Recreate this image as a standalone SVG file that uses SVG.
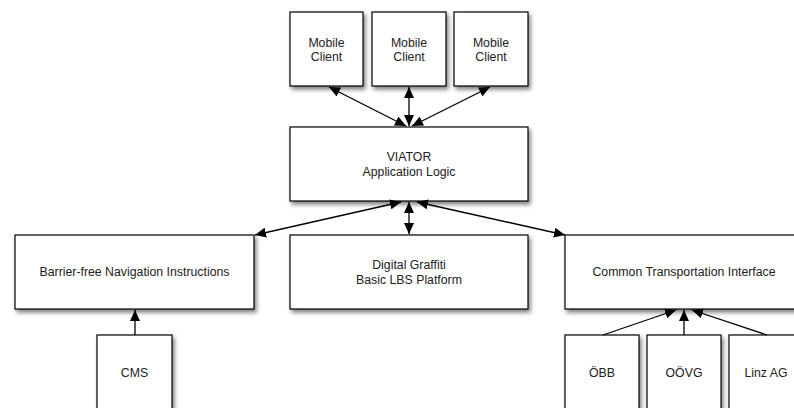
<svg xmlns="http://www.w3.org/2000/svg" width="794" height="408" viewBox="0 0 794 408">
<defs>
<filter id="sh" x="-10%" y="-10%" width="130%" height="140%">
<feDropShadow dx="2" dy="3" stdDeviation="2" flood-color="#000" flood-opacity="0.5"/>
</filter>
<marker id="ah" markerUnits="userSpaceOnUse" markerWidth="12" markerHeight="10" refX="11" refY="5" orient="auto-start-reverse">
<path d="M0,0 L11,5 L0,10 z" fill="#000"/>
</marker>
<style>
.box{fill:#fff;stroke:#000;stroke-width:1.2;filter:url(#sh)}
.t{font-family:"Liberation Sans",Arial,Helvetica,sans-serif;font-size:12.3px;fill:#222;text-anchor:middle}
.c{stroke:#000;stroke-width:1.3;fill:none}
.bi{marker-start:url(#ah);marker-end:url(#ah)}
.un{marker-end:url(#ah)}
</style>
</defs>
<g id="mobile1"><rect class="box" x="290" y="12" width="73" height="74"/><text class="t" x="326.5" y="47">Mobile</text><text class="t" x="326.5" y="61">Client</text></g>
<g id="mobile2"><rect class="box" x="372" y="12" width="74" height="74"/><text class="t" x="409" y="47">Mobile</text><text class="t" x="409" y="61">Client</text></g>
<g id="mobile3"><rect class="box" x="454" y="12" width="74" height="74"/><text class="t" x="491" y="47">Mobile</text><text class="t" x="491" y="61">Client</text></g>
<g id="viator"><rect class="box" x="290" y="127" width="238" height="74"/><text class="t" x="409" y="161">VIATOR</text><text class="t" x="409" y="175.5">Application Logic</text></g>
<g id="barrier"><rect class="box" x="15" y="235" width="239" height="74"/><text class="t" x="134.5" y="276">Barrier-free Navigation Instructions</text></g>
<g id="graffiti"><rect class="box" x="290" y="235" width="238" height="74"/><text class="t" x="409" y="269">Digital Graffiti</text><text class="t" x="409" y="283.5">Basic LBS Platform</text></g>
<g id="cti"><rect class="box" x="565" y="235" width="239" height="74"/><text class="t" x="684" y="276">Common Transportation Interface</text></g>
<g id="cms"><rect class="box" x="97" y="335" width="75" height="100"/><text class="t" x="134.5" y="377">CMS</text></g>
<g id="obb"><rect class="box" x="565" y="335" width="74" height="100"/><text class="t" x="602" y="377">ÖBB</text></g>
<g id="oovg"><rect class="box" x="647" y="335" width="74" height="100"/><text class="t" x="684" y="377">OÖVG</text></g>
<g id="linz"><rect class="box" x="729" y="335" width="74" height="100"/><text class="t" x="766" y="377">Linz AG</text></g>
<g id="connectors">
<line class="c bi" x1="329" y1="87" x2="406" y2="126"/>
<line class="c bi" x1="409" y1="87" x2="409" y2="126"/>
<line class="c bi" x1="490" y1="87" x2="412" y2="126"/>
<line class="c bi" x1="401" y1="202" x2="255" y2="235"/>
<line class="c bi" x1="409" y1="202" x2="409" y2="234"/>
<line class="c bi" x1="417" y1="202" x2="565" y2="235"/>
<line class="c un" x1="135" y1="335" x2="135" y2="310"/>
<line class="c un" x1="603" y1="335" x2="676" y2="310"/>
<line class="c un" x1="684" y1="335" x2="684" y2="310"/>
<line class="c un" x1="767" y1="335" x2="692" y2="310"/>
</g>
</svg>
